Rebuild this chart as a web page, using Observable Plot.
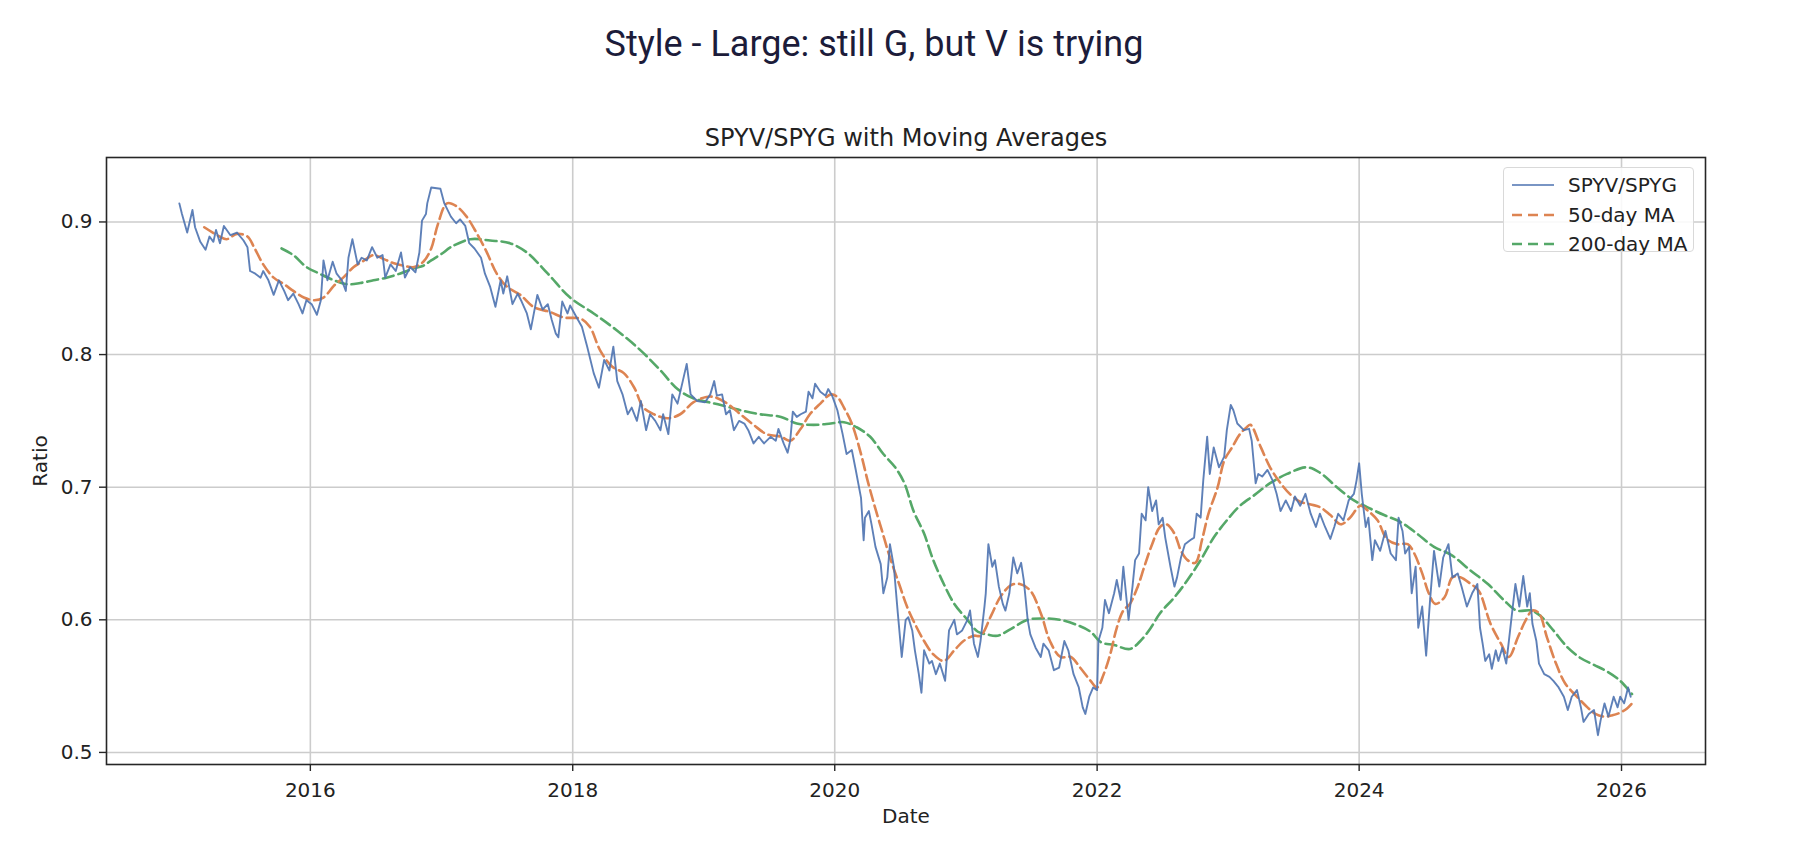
<!DOCTYPE html>
<html><head><meta charset="utf-8">
<script src="https://cdn.jsdelivr.net/npm/d3@7"></script>
<script src="https://cdn.jsdelivr.net/npm/@observablehq/plot@0.6"></script>
<style>
html,body{margin:0;padding:0;background:#fff;}
#wrap{position:relative;width:1815px;height:847px;overflow:hidden;background:#fff;}
#chart{position:absolute;left:0;top:0;}
#title{position:absolute;left:0;width:1748px;top:26px;text-align:center;font-family:Roboto,"Noto Sans",sans-serif;font-size:36px;line-height:36px;color:#1c1c3a;white-space:nowrap;}
#legend{position:absolute;left:1503px;top:167px;width:189px;height:83px;border:1px solid #d9d9d9;border-radius:4px;background:rgba(255,255,255,0.85);font-family:"DejaVu Sans";font-size:20px;color:#222;}
.row{position:absolute;left:0;width:189px;height:30px;}
.row svg{position:absolute;left:7px;top:0;}
.row span{position:absolute;left:64px;top:3px;line-height:24px;white-space:nowrap;}
</style>
</head><body>
<div id="wrap">
  <div id="chart"></div>
  <div id="title"></div>
  <div id="legend"></div>
</div>
<script>
// ---------------- data ----------------
const mainTitle = "Style - Large: still G, but V is trying";
const chartTitle = "SPYV/SPYG with Moving Averages";
const seriesNames = ["SPYV/SPYG", "50-day MA", "200-day MA"];
const seriesColors = ["#4c72b0", "#dd8452", "#55a868"];
const xTickYears = [2016, 2018, 2020, 2022, 2024, 2026];
const xTickLabels = ["2016", "2018", "2020", "2022", "2024", "2026"];
const yTicks = [0.5, 0.6, 0.7, 0.8, 0.9];
const yTickLabels = ["0.5", "0.6", "0.7", "0.8", "0.9"];
const xLabel = "Date";
const yLabel = "Ratio";

// [decimal year, ratio]
const ratio = [
[2015.00,0.914],[2015.02,0.906],[2015.06,0.892],[2015.10,0.909],[2015.12,0.896],[2015.16,0.885],[2015.20,0.879],[2015.23,0.889],
[2015.26,0.885],[2015.28,0.894],[2015.31,0.884],[2015.34,0.897],[2015.39,0.890],[2015.44,0.892],[2015.49,0.886],[2015.52,0.881],
[2015.54,0.863],[2015.58,0.861],[2015.62,0.858],[2015.64,0.863],[2015.68,0.856],[2015.72,0.845],[2015.76,0.856],[2015.80,0.848],
[2015.83,0.841],[2015.87,0.846],[2015.91,0.838],[2015.94,0.831],[2015.97,0.841],[2016.01,0.838],[2016.05,0.830],[2016.08,0.841],
[2016.10,0.871],[2016.13,0.856],[2016.17,0.870],[2016.20,0.861],[2016.24,0.856],[2016.27,0.848],[2016.29,0.873],[2016.32,0.887],
[2016.36,0.868],[2016.39,0.873],[2016.43,0.871],[2016.47,0.881],[2016.51,0.873],[2016.55,0.875],[2016.57,0.858],[2016.61,0.868],
[2016.65,0.863],[2016.69,0.877],[2016.72,0.858],[2016.76,0.866],[2016.80,0.862],[2016.83,0.877],[2016.85,0.901],[2016.88,0.906],
[2016.89,0.914],[2016.92,0.926],[2016.99,0.925],[2017.02,0.914],[2017.07,0.904],[2017.11,0.899],[2017.14,0.902],[2017.18,0.897],
[2017.21,0.884],[2017.25,0.880],[2017.30,0.873],[2017.33,0.861],[2017.37,0.851],[2017.41,0.836],[2017.45,0.856],[2017.47,0.846],
[2017.50,0.859],[2017.54,0.838],[2017.58,0.846],[2017.61,0.840],[2017.65,0.831],[2017.68,0.819],[2017.73,0.845],[2017.77,0.834],
[2017.81,0.838],[2017.84,0.826],[2017.87,0.816],[2017.89,0.813],[2017.92,0.840],[2017.96,0.831],[2017.98,0.837],[2018.03,0.828],
[2018.07,0.821],[2018.11,0.806],[2018.16,0.786],[2018.20,0.775],[2018.24,0.796],[2018.28,0.788],[2018.31,0.806],[2018.34,0.780],
[2018.38,0.770],[2018.42,0.755],[2018.45,0.760],[2018.49,0.750],[2018.52,0.765],[2018.56,0.743],[2018.59,0.755],[2018.63,0.750],
[2018.67,0.743],[2018.69,0.755],[2018.73,0.740],[2018.76,0.770],[2018.80,0.763],[2018.84,0.780],[2018.87,0.793],[2018.90,0.770],
[2018.95,0.765],[2019.01,0.764],[2019.05,0.770],[2019.08,0.780],[2019.10,0.769],[2019.14,0.770],[2019.17,0.755],[2019.20,0.758],
[2019.23,0.743],[2019.27,0.750],[2019.31,0.748],[2019.34,0.743],[2019.38,0.733],[2019.42,0.738],[2019.46,0.733],[2019.51,0.738],
[2019.55,0.735],[2019.57,0.744],[2019.61,0.733],[2019.64,0.726],[2019.66,0.735],[2019.68,0.757],[2019.71,0.753],[2019.74,0.755],
[2019.78,0.757],[2019.80,0.772],[2019.83,0.767],[2019.85,0.778],[2019.89,0.772],[2019.93,0.769],[2019.95,0.774],[2019.98,0.769],
[2020.02,0.758],[2020.06,0.740],[2020.09,0.725],[2020.13,0.728],[2020.16,0.713],[2020.20,0.692],[2020.22,0.660],[2020.23,0.677],
[2020.26,0.682],[2020.28,0.672],[2020.31,0.655],[2020.35,0.642],[2020.37,0.620],[2020.40,0.632],[2020.42,0.657],[2020.45,0.640],
[2020.48,0.605],[2020.51,0.572],[2020.54,0.600],[2020.56,0.602],[2020.59,0.592],[2020.61,0.577],[2020.64,0.559],[2020.66,0.545],
[2020.68,0.577],[2020.72,0.567],[2020.74,0.569],[2020.77,0.559],[2020.80,0.567],[2020.84,0.554],[2020.87,0.592],[2020.91,0.600],
[2020.93,0.589],[2020.97,0.592],[2021.01,0.600],[2021.03,0.607],[2021.06,0.582],[2021.09,0.572],[2021.11,0.584],[2021.14,0.610],
[2021.15,0.620],[2021.17,0.657],[2021.20,0.640],[2021.22,0.645],[2021.25,0.625],[2021.28,0.612],[2021.30,0.607],[2021.33,0.620],
[2021.36,0.647],[2021.39,0.635],[2021.42,0.643],[2021.44,0.630],[2021.47,0.600],[2021.49,0.589],[2021.53,0.579],[2021.57,0.572],
[2021.59,0.582],[2021.63,0.577],[2021.67,0.562],[2021.71,0.564],[2021.75,0.584],[2021.78,0.577],[2021.82,0.559],[2021.86,0.549],
[2021.89,0.534],[2021.91,0.529],[2021.94,0.542],[2021.97,0.549],[2022.00,0.547],[2022.01,0.584],[2022.04,0.594],[2022.06,0.615],
[2022.09,0.605],[2022.13,0.620],[2022.15,0.630],[2022.18,0.615],[2022.20,0.640],[2022.24,0.600],[2022.27,0.625],[2022.29,0.645],
[2022.32,0.650],[2022.34,0.680],[2022.37,0.675],[2022.39,0.700],[2022.42,0.682],[2022.45,0.690],[2022.47,0.672],[2022.50,0.677],
[2022.52,0.662],[2022.56,0.640],[2022.59,0.625],[2022.61,0.632],[2022.64,0.647],[2022.67,0.657],[2022.71,0.660],[2022.74,0.662],
[2022.76,0.680],[2022.79,0.677],[2022.81,0.705],[2022.84,0.738],[2022.86,0.710],[2022.89,0.730],[2022.93,0.715],[2022.97,0.723],
[2022.99,0.743],[2023.02,0.762],[2023.04,0.758],[2023.07,0.748],[2023.12,0.743],[2023.16,0.744],[2023.18,0.735],[2023.21,0.703],
[2023.23,0.710],[2023.26,0.708],[2023.30,0.713],[2023.34,0.705],[2023.37,0.695],[2023.40,0.682],[2023.44,0.690],[2023.48,0.682],
[2023.51,0.693],[2023.55,0.686],[2023.59,0.695],[2023.63,0.680],[2023.67,0.670],[2023.70,0.680],[2023.74,0.670],[2023.78,0.661],
[2023.81,0.670],[2023.84,0.680],[2023.88,0.675],[2023.92,0.690],[2023.96,0.695],[2023.98,0.705],[2024.00,0.718],[2024.02,0.695],
[2024.05,0.670],[2024.07,0.677],[2024.10,0.645],[2024.12,0.660],[2024.16,0.652],[2024.20,0.667],[2024.24,0.650],[2024.28,0.645],
[2024.30,0.677],[2024.33,0.667],[2024.35,0.650],[2024.38,0.655],[2024.40,0.620],[2024.43,0.640],[2024.45,0.594],[2024.48,0.610],
[2024.51,0.573],[2024.54,0.615],[2024.57,0.652],[2024.61,0.625],[2024.64,0.647],[2024.68,0.657],[2024.71,0.632],[2024.75,0.635],
[2024.78,0.625],[2024.82,0.610],[2024.86,0.620],[2024.90,0.627],[2024.92,0.594],[2024.94,0.582],[2024.96,0.569],[2024.99,0.574],
[2025.01,0.563],[2025.04,0.577],[2025.06,0.569],[2025.09,0.579],[2025.12,0.567],[2025.14,0.584],[2025.17,0.610],[2025.19,0.627],
[2025.22,0.610],[2025.25,0.633],[2025.28,0.610],[2025.30,0.620],[2025.32,0.597],[2025.35,0.584],[2025.37,0.567],[2025.41,0.559],
[2025.45,0.557],[2025.48,0.554],[2025.52,0.549],[2025.56,0.542],[2025.59,0.532],[2025.62,0.542],[2025.66,0.547],[2025.69,0.534],
[2025.71,0.523],[2025.75,0.529],[2025.79,0.532],[2025.82,0.513],[2025.84,0.524],[2025.87,0.537],[2025.90,0.527],[2025.94,0.542],
[2025.97,0.534],[2025.99,0.542],[2026.02,0.537],[2026.05,0.549],[2026.07,0.542]
];

const ma50 = [
[2015.19,0.896],[2015.29,0.890],[2015.36,0.887],[2015.44,0.891],[2015.52,0.889],[2015.57,0.881],[2015.64,0.868],[2015.72,0.858],
[2015.80,0.853],[2015.87,0.848],[2015.95,0.843],[2016.03,0.841],[2016.10,0.843],[2016.18,0.852],[2016.25,0.858],[2016.33,0.866],
[2016.41,0.871],[2016.48,0.875],[2016.56,0.872],[2016.63,0.869],[2016.71,0.867],[2016.79,0.866],[2016.86,0.870],[2016.92,0.880],
[2016.97,0.898],[2017.04,0.914],[2017.11,0.912],[2017.19,0.904],[2017.27,0.891],[2017.34,0.878],[2017.42,0.861],[2017.50,0.851],
[2017.60,0.845],[2017.70,0.836],[2017.83,0.832],[2017.93,0.828],[2018.06,0.827],[2018.13,0.821],[2018.21,0.803],[2018.30,0.791],
[2018.39,0.786],[2018.47,0.775],[2018.54,0.760],[2018.62,0.755],[2018.72,0.752],[2018.82,0.755],[2018.92,0.764],[2019.02,0.768],
[2019.08,0.768],[2019.18,0.763],[2019.28,0.755],[2019.38,0.747],[2019.48,0.740],[2019.59,0.738],[2019.66,0.735],[2019.74,0.744],
[2019.81,0.755],[2019.89,0.763],[2019.97,0.770],[2020.02,0.768],[2020.07,0.760],[2020.13,0.748],[2020.20,0.725],[2020.25,0.705],
[2020.30,0.687],[2020.36,0.667],[2020.42,0.647],[2020.49,0.627],[2020.55,0.610],[2020.61,0.597],[2020.68,0.584],[2020.75,0.574],
[2020.83,0.569],[2020.91,0.577],[2020.98,0.584],[2021.06,0.588],[2021.11,0.588],[2021.19,0.603],[2021.26,0.617],[2021.34,0.626],
[2021.41,0.627],[2021.49,0.622],[2021.57,0.605],[2021.64,0.584],[2021.72,0.572],[2021.80,0.572],[2021.87,0.564],[2021.95,0.554],
[2022.00,0.549],[2022.05,0.559],[2022.10,0.574],[2022.15,0.594],[2022.20,0.607],[2022.25,0.612],[2022.31,0.625],[2022.36,0.640],
[2022.42,0.657],[2022.48,0.670],[2022.53,0.672],[2022.59,0.665],[2022.64,0.652],[2022.69,0.645],[2022.75,0.643],[2022.80,0.660],
[2022.85,0.680],[2022.92,0.700],[2022.97,0.720],[2023.03,0.730],[2023.09,0.740],[2023.14,0.745],[2023.17,0.747],[2023.25,0.730],
[2023.32,0.715],[2023.40,0.703],[2023.48,0.694],[2023.55,0.689],[2023.63,0.687],[2023.70,0.685],[2023.78,0.679],[2023.86,0.672],
[2023.93,0.677],[2024.01,0.686],[2024.07,0.682],[2024.14,0.675],[2024.21,0.661],[2024.29,0.657],[2024.37,0.657],[2024.42,0.650],
[2024.48,0.635],[2024.53,0.620],[2024.58,0.612],[2024.65,0.617],[2024.71,0.632],[2024.77,0.632],[2024.85,0.627],[2024.91,0.622],
[2025.00,0.597],[2025.08,0.582],[2025.14,0.572],[2025.21,0.587],[2025.27,0.600],[2025.32,0.607],[2025.37,0.605],[2025.43,0.587],
[2025.50,0.567],[2025.57,0.552],[2025.65,0.543],[2025.74,0.534],[2025.80,0.529],[2025.87,0.527],[2025.93,0.528],[2025.99,0.530],
[2026.04,0.533],[2026.08,0.537]
];

const ma200 = [
[2015.78,0.880],[2015.87,0.875],[2015.97,0.866],[2016.07,0.861],[2016.18,0.856],[2016.28,0.853],[2016.38,0.854],[2016.48,0.856],
[2016.58,0.858],[2016.68,0.861],[2016.79,0.865],[2016.86,0.867],[2016.92,0.871],[2017.00,0.876],[2017.07,0.881],[2017.22,0.887],
[2017.37,0.886],[2017.52,0.884],[2017.65,0.877],[2017.81,0.861],[2017.98,0.843],[2018.16,0.831],[2018.34,0.818],[2018.52,0.803],
[2018.67,0.788],[2018.80,0.774],[2018.92,0.767],[2019.04,0.764],[2019.13,0.762],[2019.28,0.758],[2019.43,0.755],[2019.59,0.753],
[2019.71,0.748],[2019.84,0.747],[2019.97,0.748],[2020.07,0.749],[2020.17,0.745],[2020.27,0.738],[2020.37,0.725],[2020.46,0.715],
[2020.53,0.703],[2020.60,0.682],[2020.68,0.665],[2020.75,0.645],[2020.83,0.627],[2020.91,0.612],[2021.01,0.600],[2021.09,0.591],
[2021.16,0.589],[2021.24,0.588],[2021.34,0.593],[2021.47,0.600],[2021.59,0.601],[2021.72,0.600],[2021.85,0.596],[2021.95,0.591],
[2022.03,0.583],[2022.13,0.581],[2022.25,0.578],[2022.33,0.584],[2022.41,0.594],[2022.48,0.605],[2022.59,0.617],[2022.69,0.630],
[2022.79,0.645],[2022.89,0.662],[2022.99,0.675],[2023.09,0.686],[2023.20,0.694],[2023.32,0.703],[2023.45,0.710],[2023.60,0.715],
[2023.70,0.711],[2023.83,0.700],[2023.96,0.690],[2024.06,0.685],[2024.19,0.679],[2024.31,0.674],[2024.44,0.665],[2024.57,0.655],
[2024.70,0.649],[2024.85,0.637],[2024.98,0.627],[2025.10,0.615],[2025.20,0.607],[2025.31,0.607],[2025.38,0.603],[2025.48,0.592],
[2025.59,0.579],[2025.69,0.571],[2025.79,0.566],[2025.89,0.561],[2025.99,0.554],[2026.08,0.544]
];

// ---------------- helpers ----------------
function toDate(v) {
  const y = Math.floor(v);
  const s = Date.UTC(y, 0, 1), e = Date.UTC(y + 1, 0, 1);
  return new Date(s + (v - y) * (e - s));
}
const rows = (arr) => arr.map(([t, v]) => ({date: toDate(t), value: v}));
const ratioRows = rows(ratio), ma50Rows = rows(ma50), ma200Rows = rows(ma200);
const xTicks = xTickYears.map(y => new Date(Date.UTC(y, 0, 1)));
const fmtX = d => xTickLabels[xTickYears.indexOf(d.getUTCFullYear())];
const fmtY = v => yTickLabels[yTicks.findIndex(t => Math.abs(t - v) < 1e-9)];

const W = 1815, H = 847;
const chart = Plot.plot({
  width: W, height: H,
  marginLeft: 106, marginRight: 110, marginTop: 157, marginBottom: 83,
  style: {fontFamily: "DejaVu Sans", fontSize: "20px", color: "#222", background: "transparent", overflow: "visible"},
  x: {type: "utc", domain: [toDate(2014.444), toDate(2026.641)]},
  y: {domain: [0.4909, 0.9486]},
  marks: [
    Plot.gridX(xTicks, {stroke: "#cccccc", strokeOpacity: 1, strokeWidth: 1.6}),
    Plot.gridY(yTicks, {stroke: "#cccccc", strokeOpacity: 1, strokeWidth: 1.6}),
    Plot.line(ma200Rows, {x: "date", y: "value", stroke: seriesColors[2], strokeWidth: 2.6, strokeDasharray: "11,5", curve: "catmull-rom"}),
    Plot.line(ma50Rows, {x: "date", y: "value", stroke: seriesColors[1], strokeWidth: 2.6, strokeDasharray: "11,5", curve: "catmull-rom"}),
    Plot.line(ratioRows, {x: "date", y: "value", stroke: seriesColors[0], strokeWidth: 1.9, strokeOpacity: 0.9}),
    Plot.frame({stroke: "#262626", strokeWidth: 1.6}),
    Plot.axisX(xTicks, {tickFormat: fmtX, tickSize: 7, tickPadding: 11, stroke: "#262626", strokeWidth: 1.4, fontSize: 20,
      label: xLabel, labelAnchor: "center", labelOffset: 58, labelArrow: "none"}),
    Plot.axisY(yTicks, {tickFormat: fmtY, tickSize: 7, tickPadding: 7, stroke: "#262626", strokeWidth: 1.4, fontSize: 20,
      label: yLabel, labelAnchor: "center", labelOffset: 74, labelArrow: "none"}),
    Plot.text([chartTitle], {frameAnchor: "top", dy: -12, lineAnchor: "bottom", fontSize: 24, fill: "#222"})
  ]
});
document.getElementById("chart").appendChild(chart);
document.getElementById("title").textContent = mainTitle;

// legend (HTML)
const legend = document.getElementById("legend");
const rowTops = [2, 32, 61];
seriesNames.forEach((name, i) => {
  const row = document.createElement("div");
  row.className = "row";
  row.style.top = rowTops[i] + "px";
  const dash = i === 0 ? "" : ` stroke-dasharray="10,6"`;
  const op = i === 0 ? ` stroke-opacity="0.75"` : "";
  row.innerHTML = `<svg width="44" height="30"><line x1="1" x2="43" y1="15" y2="15" stroke="${seriesColors[i]}" stroke-width="${i === 0 ? 2 : 2.6}"${dash}${op}/></svg><span>${name}</span>`;
  legend.appendChild(row);
});
</script>
</body></html>
